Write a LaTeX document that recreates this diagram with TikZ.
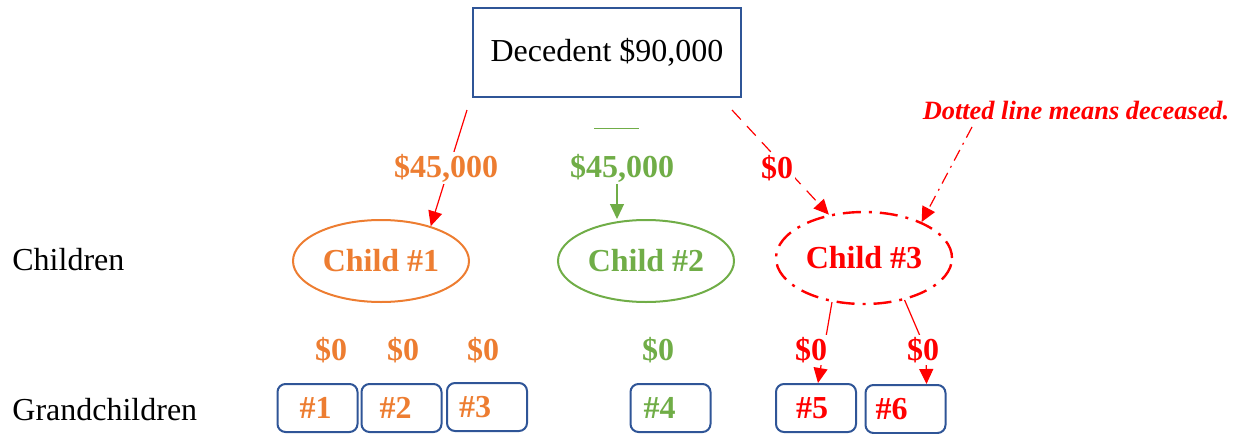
\documentclass[tikz,border=0pt]{standalone}
\usepackage{fontspec}
\setmainfont{Liberation Serif}
\usetikzlibrary{shapes.geometric, arrows.meta, calc, backgrounds}
\definecolor{boxblue}{HTML}{2F5597}
\definecolor{kidorange}{HTML}{ED7D31}
\definecolor{kidgreen}{HTML}{70AD47}
\definecolor{kidred}{HTML}{FF0000}
\tikzset{
    decbox/.style = {rectangle, draw=boxblue, line width=1pt, minimum width=134pt, minimum height=44.5pt, text centered},
    kid/.style = {ellipse, line width=1pt, minimum width=88pt, minimum height=41pt, inner sep=0pt, font=\bfseries\fontsize{16}{19}\selectfont},
    gbox/.style = {rectangle, rounded corners=4pt, draw=boxblue, line width=1pt, minimum height=24pt, text width=40pt, inner sep=0pt, align=left, font=\bfseries\fontsize{16}{19}\selectfont},
    amount/.style = {fill=white, inner sep=1pt, font=\bfseries\fontsize{16}{19}\selectfont},
    note/.style = {inner sep=0pt, text=kidred, font=\bfseries\itshape\fontsize{13.2}{16}\selectfont},
    arrow/.style = {line width=0.6pt, -{Triangle[length=7.5pt,width=7pt]}}
}
\begin{document}
\begin{tikzpicture}[x=0.5pt, y=-0.5pt, font=\fontsize{16}{19}\selectfont]
\useasboundingbox (0,0) rectangle (1238,434);

% --- DECEDENT ---
\node (decedent) [decbox] at (607,52) {Decedent \$90,000};

% --- CHILDREN ---
\node (rowkids) [anchor=west, inner sep=0pt] at (12,260) {Children};
\node (child1) [kid, draw=kidorange, text=kidorange] at (381,261) {Child \#1};
\node (child2) [kid, draw=kidgreen, text=kidgreen] at (646,261) {Child \#2};
\node (child3) [kid, draw=kidred, text=kidred, minimum height=46pt, line width=1.2pt,
    dash pattern=on 9pt off 4pt on 1.5pt off 4pt] at (864,258) {Child \#3};

\node (amt1) [amount, text=kidorange] at (446,168) {\$45,000};
\node (amt2) [amount, text=kidgreen] at (622,168) {\$45,000};
\node (amt3) [amount, text=kidred] at (777,168) {\$0};

\node (note) [note] at (1076,111) {Dotted line means deceased.};

% --- GRANDCHILDREN ---
\node (rowgrand) [anchor=west, inner sep=0pt] at (12,410) {Grandchildren};
\node (g1) [gbox, text=kidorange] at (317.5,408) {\hspace*{11pt}\#1};
\node (g2) [gbox, text=kidorange] at (401.5,408) {\hspace*{9pt}\#2};
\node (g3) [gbox, text=kidorange] at (487,407) {\hspace*{6pt}\#3};
\node (g4) [gbox, text=kidgreen] at (670.5,408) {\hspace*{6.5pt}\#4};
\node (g5) [gbox, text=kidred] at (816,408) {\hspace*{10pt}\#5};
\node (g6) [gbox, text=kidred] at (905.5,409) {\hspace*{5pt}\#6};

\node (gamt1) [amount, text=kidorange] at (331,350) {\$0};
\node (gamt2) [amount, text=kidorange] at (403,350) {\$0};
\node (gamt3) [amount, text=kidorange] at (483,350) {\$0};
\node (gamt4) [amount, text=kidgreen] at (658,350) {\$0};
\node (gamt5) [amount, text=kidred] at (811,350) {\$0};
\node (gamt6) [amount, text=kidred] at (923,350) {\$0};

% --- CONNECTIONS ---
\coordinate (tail1) at (467,110);
\coordinate (tail3) at (732,110);
\coordinate (notetail) at (972,127);
\coordinate (tail2) at ($(amt2.south)+(-5,0)$);

\begin{scope}[on background layer]
    \draw [arrow, kidred] (tail1) -- (child1.35);
    \draw [arrow, kidgreen] (tail2) -- (tail2 |- child2.north);
    \draw [arrow, kidred, dash pattern=on 6.5pt off 4.5pt] (tail3) -- (child3.129);
    \draw [arrow, kidred, dash pattern=on 6pt off 3pt on 1pt off 3pt] (notetail) -- (child3.32);

    \draw [arrow, kidred] (child3.-126) -- ($(g5.north)+(2,0)$);
    \draw [arrow, kidred] (child3.-46) -- ($(gamt6.center)+(3,0)$) -- ($(g6.north)+(21,0)$);
\end{scope}

% stray stroke above the green amount
\draw [kidgreen, line width=0.5pt] (594,128) -- (639,128);

\end{tikzpicture}
\end{document}
